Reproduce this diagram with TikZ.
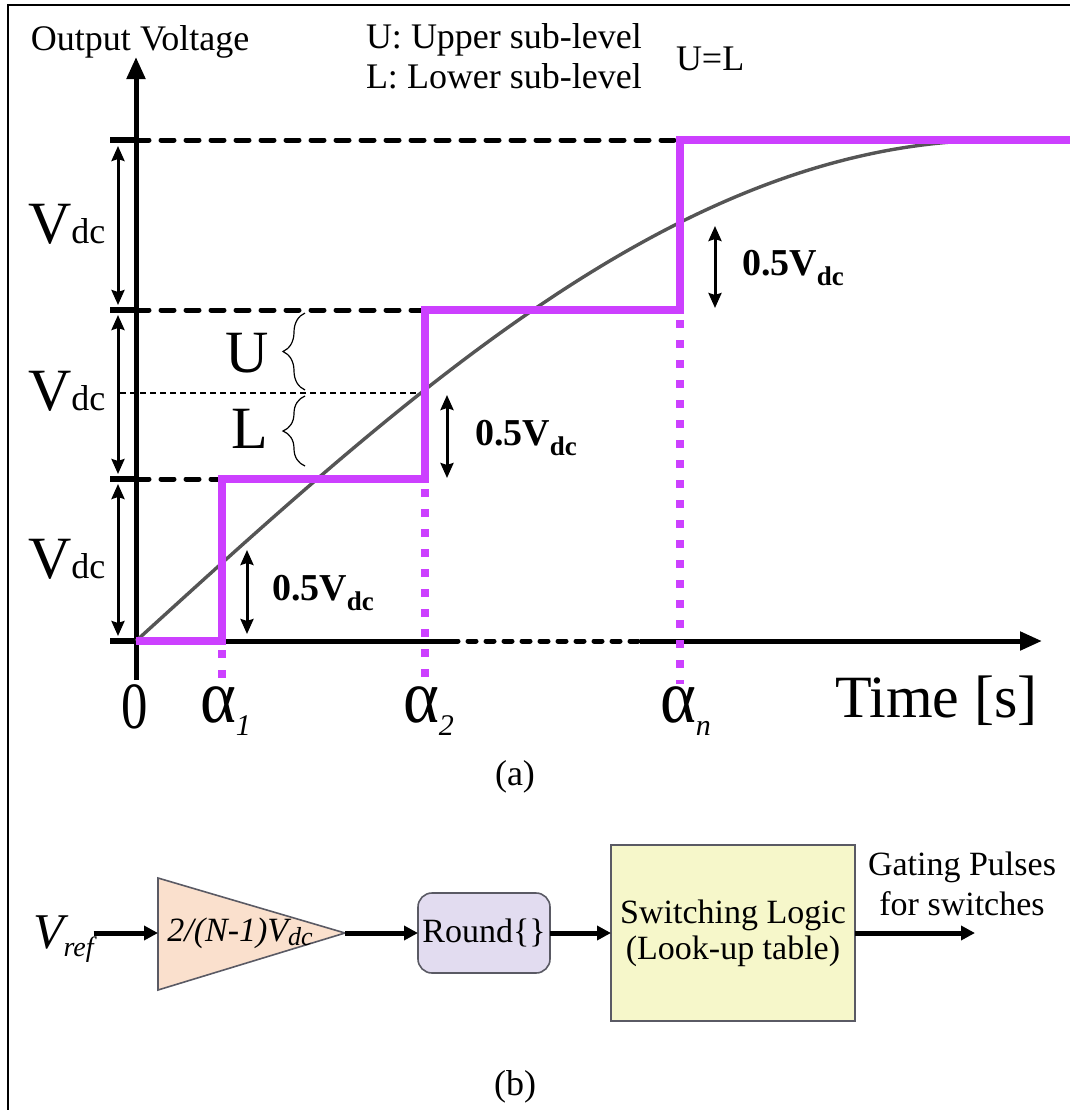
\documentclass[tikz,border=0pt]{standalone}
\usepackage{fontspec}
\usepackage{graphicx}
\setmainfont{Liberation Serif}
\usetikzlibrary{arrows.meta,decorations.pathreplacing,calc}
\definecolor{purp}{RGB}{204,64,255}
\definecolor{curvegray}{RGB}{85,85,85}
\definecolor{trifill}{RGB}{250,224,205}
\definecolor{rndfill}{RGB}{226,220,240}
\definecolor{slfill}{RGB}{246,247,202}
\definecolor{boxedge}{RGB}{90,90,100}
\newcommand\fs[1]{\fontsize{#1}{#1}\selectfont}
\newcommand\vdclab{{\fs{30}V}{\fs{18}dc}}
\newcommand\halflab{{\bfseries\fs{19}0.5V\raisebox{-5pt}{\fs{13.5}dc}}}
\newcommand\alphalab[1]{\scalebox{0.9}[1]{\fs{38}α}\raisebox{-6.5pt}{\fs{15}\itshape #1}}
\begin{document}
\begin{tikzpicture}[x=0.5pt,y=-0.5pt,
  every node/.style={inner sep=0pt, outer sep=0pt},
  ax/.style={line width=2.5pt},
  lvl/.style={line width=2.5pt, line cap=round, dash pattern=on 6.5pt off 6pt},
  stub/.style={line width=3pt},
  stepline/.style={purp, line width=4pt, line join=miter},
  pdots/.style={purp, line width=4pt, dash pattern=on 4pt off 6pt},
  dimarrow/.style={line width=1.5pt, {Stealth[length=7.5pt,width=6.5pt,inset=1pt]}-{Stealth[length=7.5pt,width=6.5pt,inset=1pt]}},
  flow/.style={line width=2.5pt, -{Triangle[length=7pt,width=7pt]}},
  axhead/.style={-{Triangle[length=11pt,width=9pt]}},
]
\useasboundingbox (0,0) rectangle (1070,1110);
% frame
\draw[line width=1pt] (8,1110) -- (8,5) -- (1070,5);

% ---------- (a) ----------
\coordinate (ybot) at (136,680);
\coordinate (ytop) at (136,57);
\coordinate (x0) at (110,641);
\coordinate (xd1) at (450,641);
\coordinate (xd2) at (640,641);
\coordinate (xend) at (1042,641);
\coordinate (o) at (136,641);
\coordinate (l1) at (136,479);
\coordinate (l2) at (136,310);
\coordinate (l3) at (136,140);
\coordinate (a1) at (222,641);
\coordinate (a1u) at (222,479);
\coordinate (a2) at (425,479);
\coordinate (a2u) at (425,310);
\coordinate (an) at (680,310);
\coordinate (anu) at (680,140);
\coordinate (topend) at (1070,140);

% level dashed lines
\draw[lvl] (l3) -- (anu);
\draw[lvl] (l2) -- (a2u);
\draw[lvl] (l1) -- (a1u);
\draw[line width=0.8pt, dash pattern=on 3pt off 2pt] (120,393) -- (425,393);
% stubs
\foreach \yy in {140,310,479,641} \draw[stub] (110,\yy) -- (136,\yy);

% axes
\draw[ax] (x0) -- (xd1);
\draw[ax, line cap=round, dash pattern=on 4pt off 5pt] (xd1) -- (xd2);
\draw[ax, axhead] (xd2) -- (xend);
\draw[ax, axhead] (ybot) -- (ytop);

% curve
\draw[curvegray, line width=1.7pt] plot[domain=0:1, samples=100, smooth] ({136+864*\x},{641-501*sin(90*\x)});

% purple steps
\draw[stepline] (o) -- (a1) -- (a1u) -- (a2) -- (a2u) -- (an) -- (anu) -- (topend);
\draw[pdots] (222,650) -- (222,684);
\draw[pdots] (425,489) -- (425,684);
\draw[pdots] (680,320) -- (680,684);

% Vdc dimension arrows
\draw[dimarrow] (118,146) -- (118,305);
\draw[dimarrow] (118,315) -- (118,474);
\draw[dimarrow] (118,484) -- (118,636);
\node[anchor=base west] (vdc3) at (28,243) {\vdclab};
\node[anchor=base west] (vdc2) at (28,410) {\vdclab};
\node[anchor=base west] (vdc1) at (28,578) {\vdclab};

% U / L
\node[anchor=base] (ulab) at (247,372) {\fs{30}U};
\node[anchor=base] (llab) at (250,448) {\fs{30}L};
\draw[line width=0.6pt, decorate, decoration={brace, amplitude=11pt}] (305,390) -- (305,313);
\draw[line width=0.6pt, decorate, decoration={brace, amplitude=11pt}] (305,466) -- (305,396);

% 0.5 Vdc
\draw[dimarrow] (247,550) -- (247,634);
\draw[dimarrow] (447,395) -- (447,478);
\draw[dimarrow] (715,226) -- (715,308);
\node[anchor=base west] (h1) at (272,600) {\halflab};
\node[anchor=base west] (h2) at (475,445) {\halflab};
\node[anchor=base west] (h3) at (742,275) {\halflab};

% titles
\node[anchor=base west] (outv) at (31,50) {\fs{18}Output Voltage};
\node[anchor=base west] (upl) at (366,48) {\fs{18}U: Upper sub-level};
\node[anchor=base west] (lol) at (366,88) {\fs{18}L: Lower sub-level};
\node[anchor=base west] (ueq) at (676,70) {\fs{18}U=L};

% axis labels
\node[anchor=base] (zero) at (135,728) {\scalebox{0.8}[1]{\fs{33}0}};
\node[anchor=base west] (al1) at (200,722) {\alphalab{1}};
\node[anchor=base west] (al2) at (403,722) {\alphalab{2}};
\node[anchor=base west] (aln) at (660,722) {\alphalab{n}};
\node[anchor=base west] (time) at (835,717) {\fs{30}Time [s]};
\node[anchor=base] (capa) at (515,785) {\fs{18}(a)};

% ---------- (b) ----------
\coordinate (triTop) at (158,878);
\coordinate (triBot) at (158,990);
\coordinate (triTip) at (345,933);
\coordinate (triL) at (158,933);
\draw[boxedge, line width=0.8pt, fill=trifill] (triTop) -- (triTip) -- (triBot) -- cycle;
\node (gain) at (240,933) {\fs{17}\itshape 2/(N-1)V\raisebox{-2pt}{\fs{13}dc}};
\node[anchor=base west] (vref) at (33,948) {\fs{25}\itshape V\raisebox{-4pt}{\fs{14}ref}};
\node[draw=boxedge, line width=0.8pt, rounded corners=7pt, fill=rndfill, minimum width=66pt, minimum height=40pt] (round) at (484,933) {\fs{17}Round\{\}};
\node[draw=boxedge, line width=1pt, fill=slfill, minimum width=122pt, minimum height=88pt, align=center, font=\fs{17}] (slogic) at (733,933) {Switching Logic\\[1pt](Look-up table)};
\coordinate (gout) at (975,933);
\node[anchor=base] (gate1) at (962,875) {\fs{17}Gating Pulses};
\node[anchor=base] (gate2) at (962,915) {\fs{17}for switches};

\draw[flow] (vref.east |- triL) -- (triL);
\draw[flow] (triTip) -- (round.west);
\draw[flow] (round.east) -- (slogic.west);
\draw[flow] (slogic.east) -- (gout);
\node[anchor=base] (capb) at (515,1095) {\fs{18}(b)};
\end{tikzpicture}
\end{document}
